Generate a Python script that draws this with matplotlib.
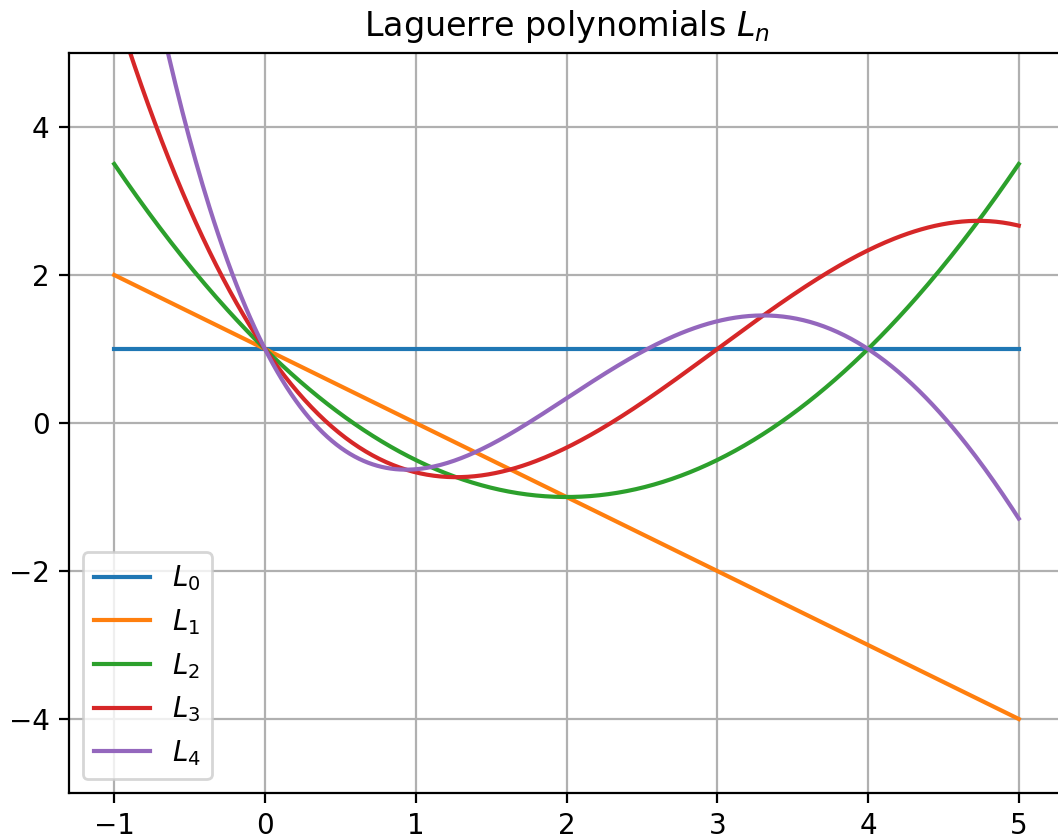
import numpy as np
from matplotlib import pyplot as plt

# Coeficientes de los polinomios de Laguerre (grado mayor primero)
L0 = [1]
L1 = [-1, 1]
L2 = [1 / 2, -2, 1]
L3 = [-1 / 6, 3 / 2, -3, 1]
L4 = [1 / 24, -2 / 3, 3, -4, 1]
polys = [L0, L1, L2, L3, L4]
labels = ['$L_0$', '$L_1$', '$L_2$', '$L_3$', '$L_4$']

x_min, x_max = -1, 5

if __name__ == "__main__":
    W, H, dpi = 1058, 839, 200
    fig = plt.figure(figsize=(W / dpi, H / dpi), dpi=dpi)
    ax = fig.add_axes([69 / W, (H - 793) / H, 995 / W, 740 / H])

    x = np.linspace(x_min, x_max, 400)
    for coef, lab in zip(polys, labels):
        ax.plot(x, np.polyval(coef, x) * np.ones_like(x), label=lab)

    ax.set_ylim(-5, 5)
    ax.set_title('Laguerre polynomials $L_n$')
    ax.grid(True)
    ax.legend(loc='lower left')

    fig.savefig('out.png', dpi=dpi)
